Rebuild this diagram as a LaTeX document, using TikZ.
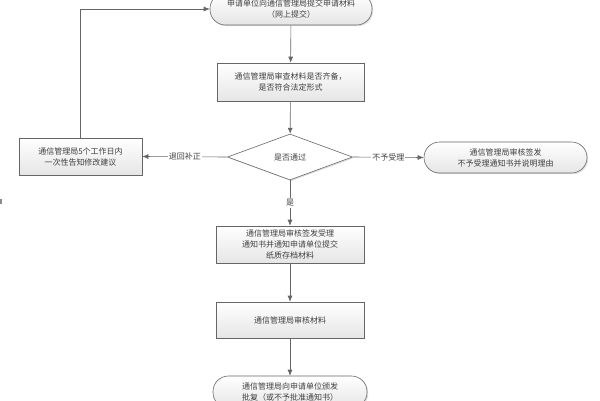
\documentclass[tikz,border=0pt]{standalone}
\usepackage{fontspec}
\newfontfamily\cjk{Noto Sans CJK SC}
\usetikzlibrary{arrows.meta,shapes.geometric,shadows}
\begin{document}
\begin{tikzpicture}[x=1pt,y=-1pt,
  base/.style={draw=black!60, line width=0.6pt, top color=white, bottom color=black!10,
    drop shadow={shadow xshift=1.2pt,shadow yshift=-1.2pt,opacity=0.25},
    align=center, font=\cjk\fontsize{8}{11}\selectfont, text=black!75, inner sep=0pt},
  procbox/.style={base, rectangle},
  termbox/.style={base, rectangle, rounded corners=15.5pt},
  decbox/.style={base, diamond, bottom color=white, top color=white},
  conn/.style={draw=black!60, line width=0.6pt, -{Latex[length=6pt,width=5pt]}},
  lab/.style={fill=white, inner sep=1pt, font=\cjk\fontsize{8}{10}\selectfont, text=black!75}]
\useasboundingbox (0,0) rectangle (600,400);
\fill[black!45] (0,199) rectangle (2,204);
\node[termbox, minimum width=162pt, minimum height=32pt] (top) at (291,9)
  {申请单位向通信管理局提交申请材料\\（网上提交）};
\node[procbox, minimum width=147pt, minimum height=38pt] (check) at (290.5,82)
  {通信管理局审查材料是否齐备，\\是否符合法定形式};
\node[decbox, minimum width=125pt, minimum height=46pt] (dec) at (290,157) {是否通过};
\node[procbox, minimum width=123pt, minimum height=37pt] (left) at (80.5,156.5)
  {通信管理局5个工作日内\\一次性告知修改建议};
\node[termbox, minimum width=163pt, minimum height=31pt] (right) at (505.5,157.5)
  {通信管理局审核签发\\不予受理通知书并说明理由};
\node[procbox, minimum width=148pt, minimum height=37pt] (acc) at (290,244.5)
  {通信管理局审核签发受理\\通知书并通知申请单位提交\\纸质存档材料};
\node[procbox, minimum width=148pt, minimum height=36pt] (rev) at (290,320)
  {通信管理局审核材料};
\node[termbox, minimum width=154pt, minimum height=32pt] (bot) at (290,392)
  {通信管理局向申请单位颁发\\批复（或不予批准通知书）};
\draw[conn] (top) -- (check);
\draw[conn] (check) -- (dec);
\draw[conn] (dec.west) -- node[lab] {退回补正} (left.east);
\draw[conn] (dec.east) -- node[lab] {不予受理} (right.west);
\draw[conn] (dec.south) -- node[lab] {是} (acc.north);
\draw[conn] (acc) -- (rev);
\draw[conn] (rev) -- (bot);
\draw[conn] (left.north) |- (top.west);
\end{tikzpicture}
\end{document}
